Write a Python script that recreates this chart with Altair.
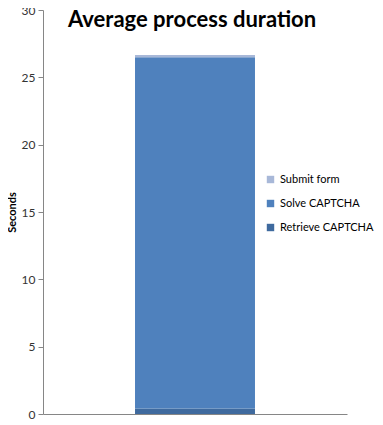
import altair as alt
import pandas as pd

steps = ["Retrieve CAPTCHA", "Solve CAPTCHA", "Submit form"]
seconds = [0.4, 26.1, 0.15]
order = [1, 2, 3]
colors = ["#3F6A9E", "#4F81BD", "#A8B8D8"]
title_text = ["Average process duration"]

df = pd.DataFrame({"cat": ["Average"] * 3, "step": steps, "seconds": seconds, "ord": order})

bars = alt.Chart(df).mark_bar().encode(
    x=alt.X("cat:N", axis=alt.Axis(labels=False, ticks=False, title=None, domainColor="#868686"),
            scale=alt.Scale(paddingInner=0, paddingOuter=0.767)),
    y=alt.Y("seconds:Q", stack="zero",
            scale=alt.Scale(domain=[0, 30], nice=False),
            axis=alt.Axis(values=[0, 5, 10, 15, 20, 25, 30], title="Seconds", grid=False,
                          domainColor="#868686", tickColor="#868686", tickSize=5,
                          labelFont="Lato", labelFontSize=12, labelColor="#333333", labelPadding=3,
                          titleFont="Lato", titleFontSize=11, titleFontWeight="bold", titleColor="#000000",
                          titlePadding=4)),
    color=alt.Color("step:N", scale=alt.Scale(domain=steps, range=colors),
                    legend=alt.Legend(title=None, orient="none", legendX=222, legendY=164,
                                      values=["Submit form", "Solve CAPTCHA", "Retrieve CAPTCHA"],
                                      symbolType="square", symbolSize=55, symbolStrokeWidth=0,
                                      labelFont="Lato", labelFontSize=11, labelColor="#000000",
                                      rowPadding=12, symbolOpacity=1, labelLimit=200)),
    order=alt.Order("ord:Q"),
)

title = alt.Chart(pd.DataFrame({"t": title_text})).mark_text(
    font="Lato", fontSize=22, fontWeight="bold", color="#000000", align="left", baseline="alphabetic"
).encode(text="t:N", x=alt.value(25), y=alt.value(17))

chart = alt.layer(bars, title).properties(
    width=304, height=404,
    autosize="none",
    padding={"left": 35, "top": 2, "right": 28, "bottom": 5},
).configure_view(stroke=None)

chart.save("out.html", embed_options={"renderer": "svg", "actions": False})
